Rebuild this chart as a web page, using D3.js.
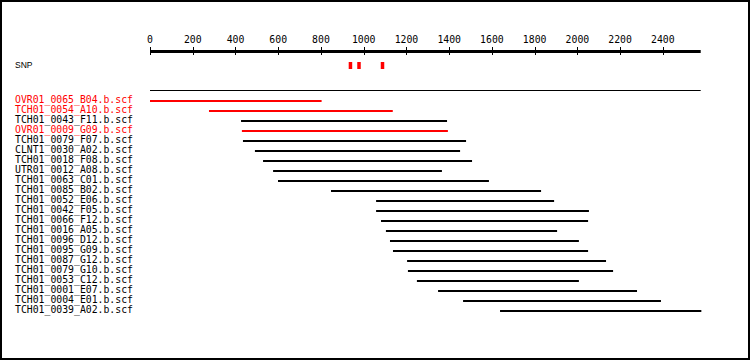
<!DOCTYPE html>
<html>
<head>
<meta charset="utf-8">
<script src="https://cdn.jsdelivr.net/npm/d3@7"></script>
<style>
html,body{margin:0;padding:0;background:#fff;}
svg{display:block;}
</style>
</head>
<body>
<svg id="chart" width="750" height="360"></svg>
<script>
// ---- data ----
const reads = ["OVR01_0065_B04.b.scf","TCH01_0054_A10.b.scf","TCH01_0043_F11.b.scf","OVR01_0009_G09.b.scf",
  "TCH01_0079_F07.b.scf","CLNT1_0030_A02.b.scf","TCH01_0018_F08.b.scf","UTR01_0012_A08.b.scf",
  "TCH01_0063_C01.b.scf","TCH01_0085_B02.b.scf","TCH01_0052_E06.b.scf","TCH01_0042_F05.b.scf",
  "TCH01_0066_F12.b.scf","TCH01_0016_A05.b.scf","TCH01_0096_D12.b.scf","TCH01_0095_G09.b.scf",
  "TCH01_0087_G12.b.scf","TCH01_0079_G10.b.scf","TCH01_0053_C12.b.scf","TCH01_0001_E07.b.scf",
  "TCH01_0004_E01.b.scf","TCH01_0039_A02.b.scf"];
const readStart = [0,276,426,430,435,491,529,576,599,847,1058,1058,1081,1104,1123,1137,1203,1207,1249,1348,1465,1638];
const readEnd   = [803,1136,1390,1394,1479,1451,1507,1366,1586,1830,1891,2054,2050,1905,2007,2050,2134,2167,2007,2279,2391,2580];
const highlighted = [true,true,false,true,false,false,false,false,false,false,false,false,false,false,false,false,false,false,false,false,false,false];
const snpPositions = [938,978,1088];
const tickValues = [0,200,400,600,800,1000,1200,1400,1600,1800,2000,2200,2400];
const axisMax = 2577;

// ---- drawing ----
const svg = d3.select("#chart");
const W = 750, H = 360;
const mono = "'DejaVu Sans Mono', monospace";

svg.append("rect").attr("x",1).attr("y",1).attr("width",W-2).attr("height",H-2)
  .attr("fill","#fff").attr("stroke","#000").attr("stroke-width",2);

const x = d3.scaleLinear().domain([0, axisMax]).range([150, 700.7]);
const y = d3.scalePoint().domain(reads).range([100, 310]);

// axis
const axisG = svg.append("g");
axisG.append("rect").attr("x", x(0)).attr("y", 50).attr("width", x(axisMax) - x(0)).attr("height", 3).attr("fill","#000");
axisG.selectAll("line.tick").data(tickValues).enter().append("line")
  .attr("x1", d => Math.round(x(d)) + 0.5).attr("x2", d => Math.round(x(d)) + 0.5)
  .attr("y1", 47).attr("y2", 55).attr("stroke","#000").attr("stroke-width",1);
axisG.selectAll("text.tl").data(tickValues).enter().append("text")
  .attr("x", d => x(d)).attr("y", 43).attr("text-anchor","middle")
  .attr("font-family", mono).attr("font-size", "9.8px").attr("fill","#000")
  .text(d => d);

// SNP row
svg.append("text").attr("x", 15).attr("y", 68).attr("font-family","'Liberation Sans', Arial, sans-serif")
  .attr("font-size","8.5px").attr("fill","#000").text("SNP");
svg.selectAll("rect.snp").data(snpPositions).enter().append("rect")
  .attr("x", d => x(d) - 1.75).attr("y", 62).attr("width", 3.5).attr("height", 7).attr("fill","#ff0000");

// separator
svg.append("rect").attr("x", x(0)).attr("y", 90).attr("width", x(axisMax) - x(0)).attr("height", 1).attr("fill","#000");

// reads
const rows = reads.map((r,i) => ({name:r, s:readStart[i], e:readEnd[i], hl:highlighted[i]}));
svg.selectAll("rect.read").data(rows).enter().append("rect")
  .attr("x", d => x(d.s)).attr("y", d => y(d.name))
  .attr("width", d => x(d.e) - x(d.s)).attr("height", 2)
  .attr("fill", d => d.hl ? "#ff0000" : "#000");
svg.selectAll("text.lab").data(rows).enter().append("text")
  .attr("x", 15).attr("y", d => y(d.name) + 3)
  .attr("font-family", mono).attr("font-size","9.8px")
  .attr("fill", d => d.hl ? "#ff0000" : "#000")
  .text(d => d.name);
</script>
</body>
</html>
